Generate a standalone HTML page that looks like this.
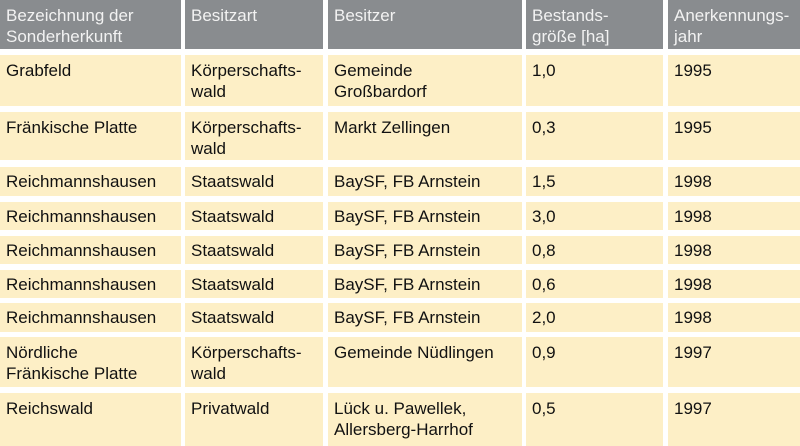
<!DOCTYPE html>
<html><head><meta charset="utf-8"><style>
html,body{margin:0;padding:0;background:#fff;width:800px;height:446px;overflow:hidden}
.c{position:absolute;background:#fdefc6;font-family:"Liberation Sans",sans-serif;font-size:17px;line-height:21px;color:#111;padding:5px 0 0 6px;box-sizing:border-box;white-space:nowrap}
.h{background:#898c8f;color:#f2f2f2}
</style></head><body>
<div id="t"></div>
<script>
var cols=[[0,181],[185,323],[328,522],[526,663],[668,800]];
var rows=[[0,49],[55,106],[112,160],[167,196],[202,230],[236,264],[270,298],[303,332],[337,387],[393,446]];
var data=[
["Bezeichnung der<br>Sonderherkunft","Besitzart","Besitzer","Bestands-<br>größe [ha]","Anerkennungs-<br>jahr"],
["Grabfeld","Körperschafts-<br>wald","Gemeinde<br>Großbardorf","1,0","1995"],
["Fränkische Platte","Körperschafts-<br>wald","Markt Zellingen","0,3","1995"],
["Reichmannshausen","Staatswald","BaySF, FB Arnstein","1,5","1998"],
["Reichmannshausen","Staatswald","BaySF, FB Arnstein","3,0","1998"],
["Reichmannshausen","Staatswald","BaySF, FB Arnstein","0,8","1998"],
["Reichmannshausen","Staatswald","BaySF, FB Arnstein","0,6","1998"],
["Reichmannshausen","Staatswald","BaySF, FB Arnstein","2,0","1998"],
["Nördliche<br>Fränkische Platte","Körperschafts-<br>wald","Gemeinde Nüdlingen","0,9","1997"],
["Reichswald","Privatwald","Lück u. Pawellek,<br>Allersberg-Harrhof","0,5","1997"]];
var h="";
for(var r=0;r<rows.length;r++)for(var c=0;c<5;c++){
h+='<div class="c'+(r==0?' h':'')+'" style="left:'+cols[c][0]+'px;width:'+(cols[c][1]-cols[c][0])+'px;top:'+rows[r][0]+'px;height:'+(rows[r][1]-rows[r][0])+'px;'+(r>2&&r<8?'padding-top:4px':'')+'">'+data[r][c]+'</div>';}
document.getElementById("t").innerHTML=h;
</script>
</body></html>
